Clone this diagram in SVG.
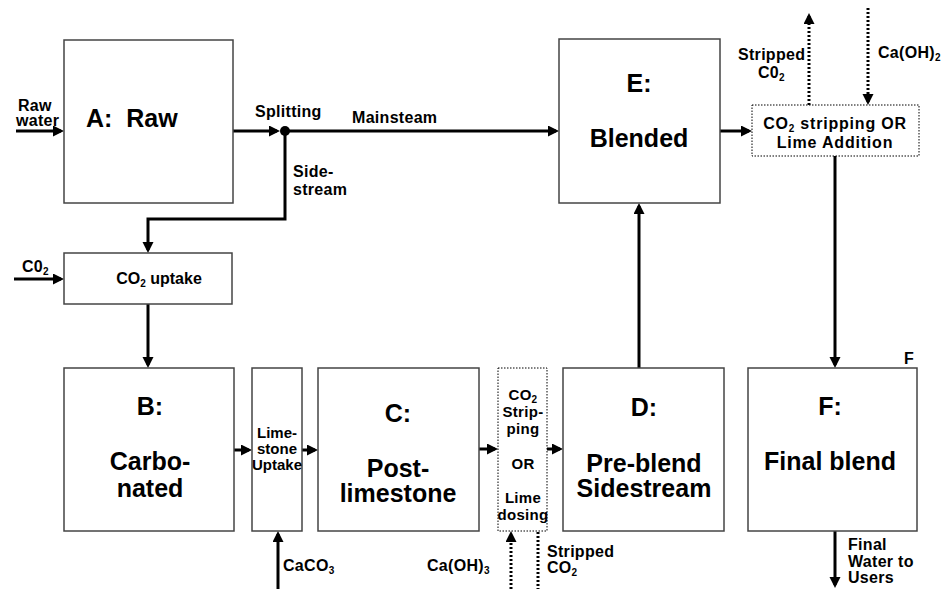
<svg xmlns="http://www.w3.org/2000/svg" width="951" height="589" viewBox="0 0 951 589">
<defs>
<style>
.box{fill:#fff;stroke:#444;stroke-width:1.5}
.dbox{fill:#fff;stroke:#000;stroke-width:1;stroke-dasharray:1.5 1.5}
.ln{fill:none;stroke:#000;stroke-width:3}
.dl{fill:none;stroke:#000;stroke-width:3;stroke-dasharray:2 2}
text{font-family:"Liberation Sans",Arial,sans-serif;font-weight:bold;fill:#000}
.big{font-size:25px;text-anchor:middle}
.sm{font-size:16px;letter-spacing:0.3px}
.smc{font-size:16px;text-anchor:middle}
.dt{font-size:15px;text-anchor:middle;letter-spacing:0.3px}
.lim{font-size:15px;text-anchor:middle}
.sub{font-size:10px}
</style>
<marker id="ah" markerUnits="userSpaceOnUse" markerWidth="12" markerHeight="12" refX="8" refY="5.5" orient="auto">
<path d="M0,0 L11,5.5 L0,11 z" fill="#000"/>
</marker>
</defs>
<rect width="951" height="589" fill="#fff"/>

<g id="connectors">
<line class="ln" x1="16" y1="131" x2="61" y2="131" marker-end="url(#ah)"/>
<line class="ln" x1="233" y1="131" x2="277" y2="131" marker-end="url(#ah)"/>
<line class="ln" x1="285" y1="131" x2="556" y2="131" marker-end="url(#ah)"/>
<circle cx="285" cy="131" r="5" fill="#000"/>
<polyline class="ln" points="285,131 285,219 148,219 148,250" marker-end="url(#ah)"/>
<line class="ln" x1="14" y1="279" x2="61" y2="279" marker-end="url(#ah)"/>
<line class="ln" x1="148" y1="304" x2="148" y2="365" marker-end="url(#ah)"/>
<line class="ln" x1="234" y1="450" x2="249" y2="450" marker-end="url(#ah)"/>
<line class="ln" x1="302" y1="450" x2="315" y2="450" marker-end="url(#ah)"/>
<line class="ln" x1="479" y1="449" x2="495" y2="449" marker-end="url(#ah)"/>
<line class="ln" x1="547" y1="449" x2="560" y2="449" marker-end="url(#ah)"/>
<line class="ln" x1="639" y1="368" x2="639" y2="206" marker-end="url(#ah)"/>
<line class="ln" x1="720" y1="131" x2="749" y2="131" marker-end="url(#ah)"/>
<line class="ln" x1="835" y1="156" x2="835" y2="365" marker-end="url(#ah)"/>
<line class="ln" x1="835" y1="531" x2="835" y2="585" marker-end="url(#ah)"/>
<line class="dl" x1="809" y1="105" x2="809" y2="16" marker-end="url(#ah)"/>
<line class="dl" x1="868" y1="8" x2="868" y2="102" marker-end="url(#ah)"/>
<line class="ln" x1="278" y1="589" x2="278" y2="534" marker-end="url(#ah)"/>
<line class="dl" x1="511" y1="589" x2="511" y2="534" marker-end="url(#ah)"/>
<line class="dl" x1="538" y1="532" x2="538" y2="589"/>
</g>

<g id="nodeA">
<rect class="box" x="64" y="40" width="169" height="163"/>
<text x="86" y="127" font-size="25">A:&#160;&#160;Raw</text>
</g>
<g id="nodeCO2uptake">
<rect class="box" x="64" y="253" width="168" height="51"/>
<text x="159" y="284" class="smc">CO<tspan class="sub" dy="3">2</tspan><tspan dy="-3"> uptake</tspan></text>
</g>
<g id="nodeB">
<rect class="box" x="64" y="368" width="170" height="163"/>
<text x="150" y="415" class="big">B:</text>
<text x="150" y="470" class="big">Carbo-</text>
<text x="150" y="497" class="big">nated</text>
</g>
<g id="nodeLimestone">
<rect class="box" x="252" y="368" width="50" height="163"/>
<text x="277" y="438" class="lim">Lime-</text>
<text x="277" y="454" class="lim">stone</text>
<text x="277" y="470" class="lim">Uptake</text>
</g>
<g id="nodeC">
<rect class="box" x="318" y="368" width="161" height="163"/>
<text x="398" y="422" class="big">C:</text>
<text x="398" y="477" class="big">Post-</text>
<text x="398" y="502" class="big">limestone</text>
</g>
<g id="nodeStripping1">
<rect class="dbox" x="498" y="368" width="49" height="163"/>
<text x="523" y="400" class="dt">CO<tspan class="sub" dy="3">2</tspan></text>
<text x="523" y="417" class="dt">Strip-</text>
<text x="523" y="434" class="dt">ping</text>
<text x="523" y="469" class="dt">OR</text>
<text x="523" y="503" class="dt">Lime</text>
<text x="523" y="520" class="dt">dosing</text>
</g>
<g id="nodeD">
<rect class="box" x="563" y="368" width="161" height="163"/>
<text x="644" y="416" class="big">D:</text>
<text x="644" y="472" class="big">Pre-blend</text>
<text x="644" y="497" class="big">Sidestream</text>
</g>
<g id="nodeE">
<rect class="box" x="559" y="39" width="161" height="164"/>
<text x="639" y="92" class="big">E:</text>
<text x="639" y="147" class="big">Blended</text>
</g>
<g id="nodeStripping2">
<rect class="dbox" x="752" y="105" width="167" height="51"/>
<text x="835" y="129" class="smc" letter-spacing="0.8">CO<tspan class="sub" dy="3">2</tspan><tspan dy="-3"> stripping OR</tspan></text>
<text x="835" y="148" class="smc" letter-spacing="0.8">Lime Addition</text>
</g>
<g id="nodeF">
<rect class="box" x="748" y="368" width="169" height="163"/>
<text x="830" y="415" class="big">F:</text>
<text x="830" y="470" class="big">Final blend</text>
<text x="904" y="364" class="sm">F</text>
</g>

<g id="labels">
<text x="18" y="111" class="sm">Raw</text>
<text x="16" y="126" class="sm">water</text>
<text x="255" y="117" class="sm">Splitting</text>
<text x="352" y="123" class="sm">Mainsteam</text>
<text x="293" y="177" class="sm">Side-</text>
<text x="293" y="195" class="sm">stream</text>
<text x="22" y="272" class="sm">C0<tspan class="sub" dy="3">2</tspan></text>
<text x="738" y="60" class="sm">Stripped</text>
<text x="758" y="78" class="sm">C0<tspan class="sub" dy="3">2</tspan></text>
<text x="878" y="58" class="sm">Ca(OH)<tspan class="sub" dy="3">2</tspan></text>
<text x="283" y="571" class="sm">CaCO<tspan class="sub" dy="3">3</tspan></text>
<text x="427" y="571" class="sm">Ca(OH)<tspan class="sub" dy="3">3</tspan></text>
<text x="547" y="557" class="sm">Stripped</text>
<text x="547" y="573" class="sm">CO<tspan class="sub" dy="3">2</tspan></text>
<text x="848" y="550" class="sm">Final</text>
<text x="848" y="567" class="sm">Water to</text>
<text x="848" y="583" class="sm">Users</text>
</g>
</svg>
